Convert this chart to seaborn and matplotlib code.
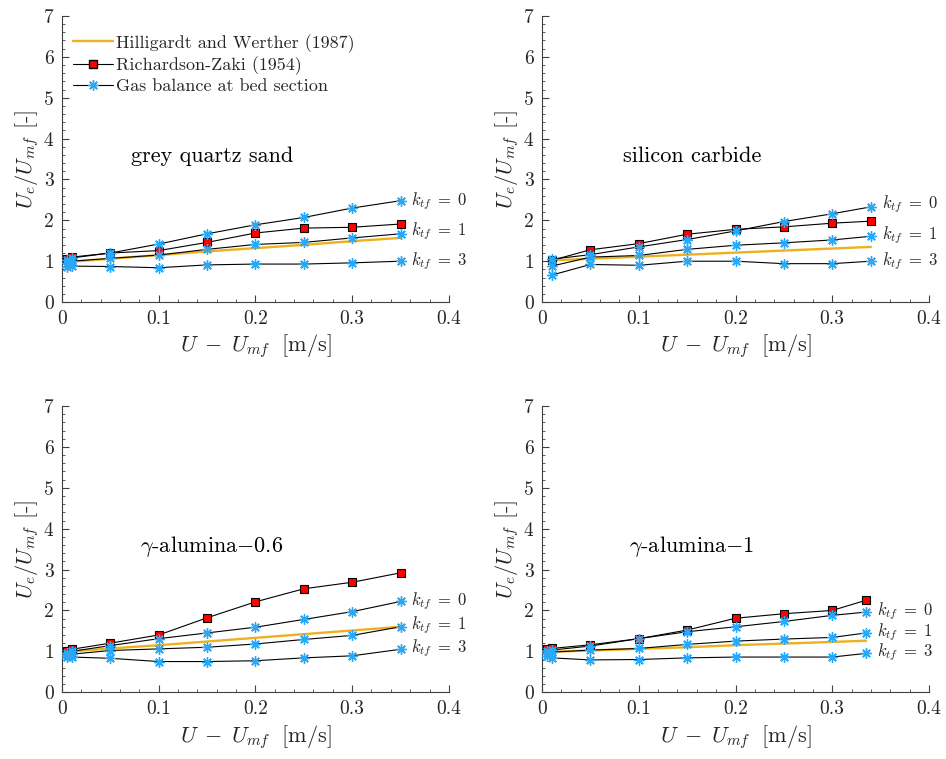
import numpy as np
import pandas as pd
import matplotlib
matplotlib.use("Agg")
import matplotlib.pyplot as plt
from matplotlib.lines import Line2D
from matplotlib.ticker import MultipleLocator, FuncFormatter
import seaborn as sns

# ---------------- data ----------------
x_full = [0.005, 0.01, 0.05, 0.1, 0.15, 0.2, 0.25, 0.3, 0.35]
x_sic = [0.01, 0.05, 0.1, 0.15, 0.2, 0.25, 0.3, 0.34]
x_ga1 = [0.005, 0.01, 0.05, 0.1, 0.15, 0.2, 0.25, 0.3, 0.335]

# grey quartz sand
hw_q = [0.98, 0.99, 1.06, 1.15, 1.24, 1.32, 1.40, 1.49, 1.57]
rz_q = [1.05, 1.10, 1.20, 1.26, 1.46, 1.69, 1.81, 1.83, 1.91]
k0_q = [1.02, 1.08, 1.20, 1.42, 1.67, 1.89, 2.07, 2.30, 2.48]
k1_q = [0.96, 1.00, 1.07, 1.15, 1.29, 1.41, 1.46, 1.57, 1.67]
k3_q = [0.86, 0.88, 0.87, 0.84, 0.91, 0.93, 0.93, 0.96, 1.00]

# silicon carbide
hw_s = [1.02, 1.06, 1.11, 1.16, 1.21, 1.26, 1.31, 1.35]
rz_s = [1.02, 1.28, 1.43, 1.66, 1.78, 1.84, 1.93, 1.98]
k0_s = [1.05, 1.16, 1.35, 1.53, 1.74, 1.97, 2.16, 2.33]
k1_s = [0.88, 1.10, 1.14, 1.29, 1.39, 1.45, 1.52, 1.61]
k3_s = [0.66, 0.92, 0.90, 1.00, 1.00, 0.94, 0.94, 1.00]

# gamma-alumina-0.6
hw_a = [0.99, 1.00, 1.07, 1.15, 1.24, 1.33, 1.42, 1.51, 1.60]
rz_a = [1.00, 1.05, 1.20, 1.40, 1.82, 2.21, 2.53, 2.69, 2.92]
k0_a = [0.96, 1.00, 1.14, 1.31, 1.45, 1.59, 1.78, 1.97, 2.22]
k1_a = [0.91, 0.93, 1.02, 1.06, 1.10, 1.18, 1.29, 1.39, 1.60]
k3_a = [0.87, 0.86, 0.83, 0.75, 0.75, 0.77, 0.84, 0.89, 1.05]

# gamma-alumina-1
hw_g = [0.98, 0.99, 1.02, 1.06, 1.10, 1.15, 1.19, 1.23, 1.26]
rz_g = [1.05, 1.07, 1.16, 1.31, 1.52, 1.81, 1.92, 2.00, 2.25]
k0_g = [1.01, 1.03, 1.13, 1.31, 1.48, 1.60, 1.73, 1.88, 1.96]
k1_g = [0.95, 0.98, 1.03, 1.07, 1.17, 1.25, 1.30, 1.34, 1.45]
k3_g = [0.88, 0.84, 0.79, 0.80, 0.84, 0.86, 0.86, 0.86, 0.95]

titles = ["grey quartz sand", "silicon carbide",
          r"$\gamma$-alumina$-$0.6", r"$\gamma$-alumina$-$1"]
k_values = [0, 1, 3]
legend_labels = ["Hilligardt and Werther (1987)", "Richardson-Zaki (1954)",
                 "Gas balance at bed section"]
x_ticks = [0, 0.1, 0.2, 0.3, 0.4]
y_ticks = [0, 1, 2, 3, 4, 5, 6, 7]

panels = [
    (x_full, hw_q, rz_q, [k0_q, k1_q, k3_q]),
    (x_sic, hw_s, rz_s, [k0_s, k1_s, k3_s]),
    (x_full, hw_a, rz_a, [k0_a, k1_a, k3_a]),
    (x_ga1, hw_g, rz_g, [k0_g, k1_g, k3_g]),
]
label_dy = [[0.0, 0.06, 0.0], [0.06, 0.03, 0.0], [0.02, 0.05, 0.04], [0.02, 0.01, 0.02]]

# ---------------- style ----------------
sns.set_theme(style="ticks")
plt.rcParams.update({
    "font.family": "serif",
    "font.serif": ["cmr10", "DejaVu Serif"],
    "mathtext.fontset": "cm",
    "axes.formatter.use_mathtext": True,
    "axes.unicode_minus": False,
    "xtick.direction": "in",
    "ytick.direction": "in",
})

ORANGE = "#EDB120"
BLUE = "#2AA8F5"
RED = "#FF0000"
TXT = "#262626"
SQ = 5.5
ST = 7.5

fig = plt.figure(figsize=(9.46, 7.59), dpi=100)
positions = [
    [0.0655, 0.602, 0.409, 0.377],
    [0.573, 0.602, 0.409, 0.377],
    [0.0655, 0.088, 0.409, 0.377],
    [0.573, 0.088, 0.409, 0.377],
]

for i, (pos, (xs, hw, rz, gas)) in enumerate(zip(positions, panels)):
    ax = fig.add_axes(pos)
    sns.lineplot(x=xs, y=hw, ax=ax, color=ORANGE, lw=1.7, sort=False, zorder=2)
    sns.lineplot(x=xs, y=rz, ax=ax, color="black", lw=0.8, sort=False, zorder=3,
                 marker="s", markersize=SQ, markerfacecolor=RED,
                 markeredgecolor="black", markeredgewidth=0.8)
    for j, g in enumerate(gas):
        sns.lineplot(x=xs, y=g, ax=ax, color="black", lw=0.8, sort=False, zorder=4,
                     marker=(8, 2, 0), markersize=ST, markeredgecolor=BLUE,
                     markeredgewidth=1.0, markerfacecolor=BLUE)
        ax.text(xs[-1] + 0.011, g[-1] + label_dy[i][j],
                rf"$k_{{tf}}\;=\;{k_values[j]}$",
                fontsize=12, va="center", ha="left", color=TXT)

    ax.text(0.155, 3.57, titles[i], fontsize=16, ha="center", va="center", color="black")

    ax.set_xlim(0, 0.4)
    ax.set_ylim(0, 7)
    ax.set_xticks(x_ticks)
    ax.set_yticks(y_ticks)
    ax.xaxis.set_major_formatter(FuncFormatter(lambda v, p: f"{v:g}"))
    ax.yaxis.set_major_formatter(FuncFormatter(lambda v, p: f"{v:g}"))
    ax.xaxis.set_minor_locator(MultipleLocator(0.02))
    ax.yaxis.set_minor_locator(MultipleLocator(0.2))
    ax.tick_params(which="major", length=5, width=0.8, labelsize=14, colors="#404040",
                   labelcolor=TXT, pad=6)
    ax.tick_params(which="minor", length=2.5, width=0.6, colors="#404040")
    for s in ["top", "right"]:
        ax.spines[s].set_visible(False)
    for s in ["left", "bottom"]:
        ax.spines[s].set_color("#404040")
        ax.spines[s].set_linewidth(0.8)
    ax.set_xlabel(r"$U\;-\;U_{mf}\;$ [m/s]", fontsize=16, color=TXT, labelpad=3)
    ax.set_ylabel(r"$U_e/U_{mf}$ [-]", fontsize=16, color=TXT, labelpad=2)

    if i == 0:
        handles = [
            Line2D([], [], color=ORANGE, lw=1.7),
            Line2D([], [], color="black", lw=0.8, marker="s", markersize=SQ,
                   markerfacecolor=RED, markeredgecolor="black"),
            Line2D([], [], color="black", lw=0.8, marker=(8, 2, 0), markersize=ST,
                   markeredgecolor=BLUE, markerfacecolor=BLUE),
        ]
        ax.legend(handles, legend_labels, loc="upper left", bbox_to_anchor=(0.0, 0.975),
                  frameon=False, fontsize=13, handlelength=2.2, handletextpad=0.2,
                  labelspacing=0.2, borderaxespad=0.2)

fig.savefig("out.png", dpi=100)
